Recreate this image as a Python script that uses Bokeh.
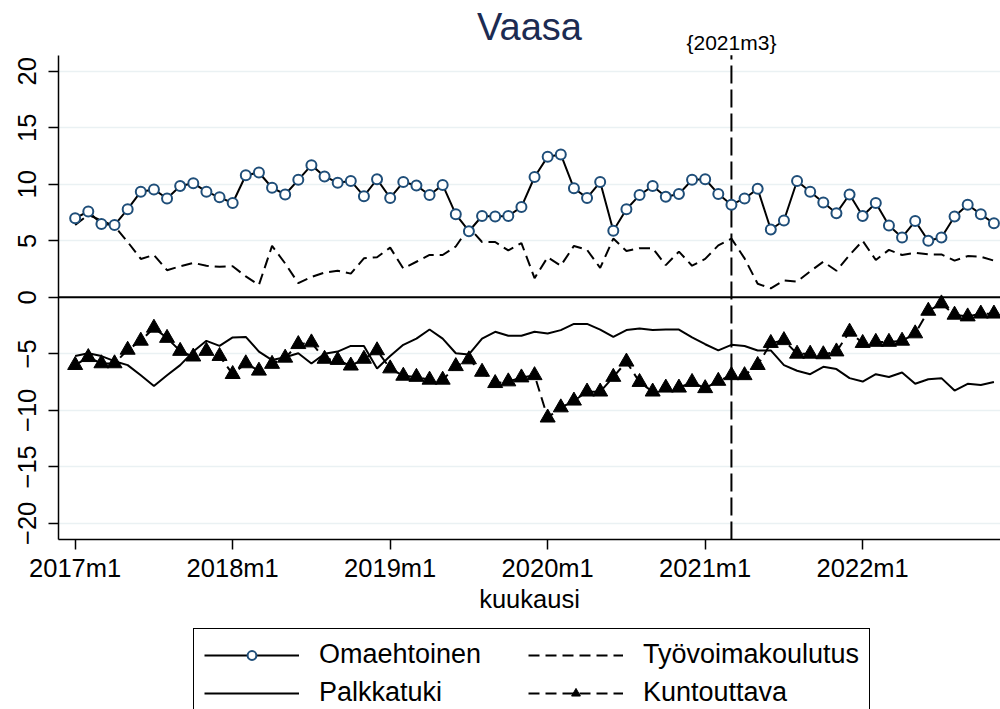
from bokeh.plotting import figure
from bokeh.layouts import column
from bokeh.models import Range1d, FixedTicker, Span, Label, Legend, LegendItem
from bokeh.embed import file_html
from bokeh.resources import INLINE

# ---------------- data ----------------
months = [f"{y}m{m}" for y in range(2017, 2023) for m in range(1, 13)][:71]

omaehtoinen = [7.0, 7.6, 6.5, 6.4, 7.8, 9.35, 9.55, 8.75, 9.85, 10.1, 9.35, 8.85,
               8.35, 10.8, 11.05, 9.7, 9.1, 10.4, 11.7, 10.7, 10.15, 10.3, 8.95, 10.45,
               8.8, 10.2, 9.9, 9.05, 9.95, 7.35, 5.85, 7.2, 7.15, 7.2, 8.0, 10.65,
               12.45, 12.65, 9.65, 8.8, 10.2, 5.9, 7.8, 9.05, 9.85, 8.9, 9.15, 10.4,
               10.45, 9.15, 8.2, 8.75, 9.6, 6.0, 6.8, 10.3, 9.35, 8.4, 7.45, 9.1,
               7.2, 8.35, 6.35, 5.3, 6.75, 5.0, 5.3, 7.15, 8.2, 7.35, 6.55]

tyovoimakoulutus = [6.4, 7.3, 6.8, 6.3, 4.9, 3.4, 3.75, 2.4, 2.75, 3.05, 2.8, 2.7,
                    2.75, 1.85, 1.1, 4.55, 3.0, 1.25, 1.8, 2.2, 2.35, 2.1, 3.45, 3.55,
                    4.4, 2.55, 3.15, 3.75, 3.75, 4.5, 6.2, 4.9, 4.9, 4.15, 4.8, 1.7,
                    3.55, 2.8, 4.55, 4.2, 2.6, 5.2, 4.1, 4.35, 4.35, 2.85, 4.05, 2.8,
                    3.4, 4.6, 5.2, 3.45, 1.2, 0.8, 1.5, 1.4, 2.3, 3.15, 2.35, 3.75,
                    5.0, 3.3, 4.2, 3.75, 3.95, 3.8, 3.8, 3.25, 3.65, 3.6, 3.25]

palkkatuki = [-5.2, -4.95, -5.2, -5.65, -6.0, -6.9, -7.85, -6.9, -6.0, -4.8, -3.85, -4.3,
              -3.55, -3.5, -4.8, -5.55, -5.3, -4.95, -5.85, -5.0, -4.8, -4.3, -4.3, -6.3,
              -5.2, -4.2, -3.65, -2.85, -3.65, -4.95, -5.05, -3.65, -3.05, -3.4, -3.4, -3.05,
              -3.2, -2.9, -2.35, -2.35, -2.85, -3.5, -2.9, -2.75, -2.9, -2.85, -2.85, -3.55,
              -4.15, -4.7, -4.2, -4.3, -4.7, -4.7, -6.0, -6.5, -6.8, -6.15, -6.35, -7.15,
              -7.45, -6.8, -7.05, -6.65, -7.65, -7.25, -7.15, -8.25, -7.65, -7.75, -7.5]

kuntouttava = [-6.0, -5.3, -5.85, -5.85, -4.65, -3.85, -2.7, -3.6, -4.75, -5.25, -4.75, -5.2,
               -6.8, -5.85, -6.5, -5.9, -5.35, -4.15, -4.0, -5.45, -5.55, -6.05, -5.45, -4.7,
               -6.3, -6.95, -7.05, -7.3, -7.3, -6.1, -5.5, -6.6, -7.6, -7.45, -7.1, -6.9,
               -10.65, -9.75, -9.15, -8.35, -8.35, -7.05, -5.7, -7.5, -8.35, -8.0, -8.0, -7.5,
               -8.05, -7.4, -6.9, -6.9, -6.0, -4.05, -3.8, -5.0, -5.0, -5.05, -4.8, -3.05,
               -4.05, -3.95, -3.95, -3.85, -3.2, -1.2, -0.55, -1.55, -1.7, -1.45, -1.45]

x_tick_labels = ["2017m1", "2018m1", "2019m1", "2020m1", "2021m1", "2022m1"]
y_ticks = [-20, -15, -10, -5, 0, 5, 10, 15, 20]
event_month = "2021m3"
title_text = "Vaasa"
x_label = "kuukausi"

FONT = "Liberation Sans"
NAVY = "#1f4e79"

# plot-region extents (data units)
X_LO, X_HI = -1.27, 70.5
Y_LO, Y_HI = -21.43, 21.43          # extent of the axis / plot region
PX_PER_UNIT = 11.3
MAIN_H = 627
BOTTOM = 88
LEFT = 58
Y_TOP_CANVAS = Y_LO + (MAIN_H - BOTTOM) / PX_PER_UNIT   # frame reaches the top of the canvas

x = list(range(len(months)))

p = figure(width=1000, height=MAIN_H,
           x_range=Range1d(X_LO, X_HI), y_range=Range1d(Y_LO, Y_TOP_CANVAS),
           output_backend="svg", toolbar_location=None,
           min_border_left=LEFT, min_border_right=0, min_border_top=0, min_border_bottom=BOTTOM,
           background_fill_color="white", border_fill_color="white",
           outline_line_color=None)

# axes
xt = [months.index(t) for t in x_tick_labels]
p.xaxis.ticker = FixedTicker(ticks=xt)
p.xaxis.major_label_overrides = {i: months[i] for i in xt}
p.xaxis.axis_label = x_label
p.yaxis.ticker = FixedTicker(ticks=y_ticks)
p.yaxis.bounds = (Y_LO, Y_HI)
p.yaxis.major_label_orientation = "vertical"
for ax in (p.xaxis[0], p.yaxis[0]):
    ax.axis_line_color = "black"
    ax.axis_line_width = 1.5
    ax.major_tick_line_color = "black"
    ax.major_tick_line_width = 1.5
    ax.major_tick_in = 0
    ax.major_tick_out = 10
    ax.minor_tick_line_color = None
    ax.major_label_text_font = FONT
    ax.major_label_text_font_size = "25.5px"
    ax.major_label_text_color = "black"
    ax.axis_label_text_font = FONT
    ax.axis_label_text_font_size = "25.5px"
    ax.axis_label_text_font_style = "normal"
    ax.axis_label_text_color = "black"
p.xaxis.major_label_standoff = 4
p.xaxis.axis_label_standoff = 0
p.yaxis.major_label_standoff = 12

p.xgrid.visible = False
p.ygrid.grid_line_color = "#eaf1f3"
p.ygrid.grid_line_width = 1.5

# title and event label (inside the extended frame, above the plot region)
p.add_layout(Label(x=(X_LO + X_HI) / 2, y=Y_HI + 28 / PX_PER_UNIT, text=title_text,
                   text_font=FONT, text_font_size="38px", text_color="#1c2b52",
                   text_align="center", text_baseline="middle"))
ev = months.index(event_month)
p.add_layout(Label(x=ev, y=Y_HI + 13 / PX_PER_UNIT, text="{" + event_month + "}",
                   text_font=FONT, text_font_size="21px",
                   text_align="center", text_baseline="middle", text_color="black"))

# reference lines
p.add_layout(Span(location=0, dimension="width", line_color="black", line_width=2))
p.segment(x0=[ev], y0=[Y_LO], x1=[ev], y1=[Y_HI], line_color="black",
          line_width=2, line_dash="18 6")

# series
r_tyo = p.line(x, tyovoimakoulutus, line_color="black", line_width=2, line_dash="11 6")
r_palk = p.line(x, palkkatuki, line_color="black", line_width=2)
r_kun_l = p.line(x, kuntouttava, line_color="black", line_width=2, line_dash="11 6")
r_kun_p = p.scatter(x, kuntouttava, marker="triangle", size=15,
                    fill_color="black", line_color="black")
r_om_l = p.line(x, omaehtoinen, line_color="black", line_width=2)
r_om_p = p.scatter(x, omaehtoinen, marker="circle", size=10, fill_color="white",
                   line_color=NAVY, line_width=2)

# ---------------- legend strip ----------------
# proxy renderers (NaN data: nothing drawn in the strip, only the legend keys)
LEG_H = 709 - MAIN_H
NAN = [float("nan")]
q = figure(width=1000, height=LEG_H, x_range=Range1d(0, 1), y_range=Range1d(0, 1),
           x_axis_type=None, y_axis_type=None, output_backend="svg",
           toolbar_location=None, min_border=0, outline_line_color=None,
           background_fill_color="white", border_fill_color="white")
l_om = q.line(NAN, NAN, line_color="black", line_width=2)
m_om = q.scatter(NAN, NAN, marker="circle", size=8, fill_color="white",
                 line_color=NAVY, line_width=2)
l_tyo = q.line(NAN, NAN, line_color="black", line_width=2, line_dash="11 6")
l_palk = q.line(NAN, NAN, line_color="black", line_width=2)
l_kun = q.line(NAN, NAN, line_color="black", line_width=2, line_dash="11 6")
m_kun = q.scatter(NAN, NAN, marker="triangle", size=13, fill_color="black", line_color="black")

legend = Legend(items=[
    LegendItem(label="Omaehtoinen", renderers=[l_om, m_om]),
    LegendItem(label="Työvoimakoulutus", renderers=[l_tyo]),
    LegendItem(label="Palkkatuki", renderers=[l_palk]),
    LegendItem(label="Kuntouttava", renderers=[l_kun, m_kun]),
], orientation="horizontal", ncols=2, location=(193 - LEFT, LEG_H - 92),
    glyph_width=95, glyph_height=22, label_standoff=20, label_height=30,
    label_width=202,
    label_text_font=FONT, label_text_font_size="27px", label_text_color="black",
    spacing=7, padding=10, margin=0,
    border_line_color="black", border_line_width=1.5, border_line_alpha=1.0,
    background_fill_color="white", background_fill_alpha=1.0)
q.add_layout(legend)

layout = column(p, q, spacing=0)
open("out.html", "w").write(file_html(layout, INLINE))
